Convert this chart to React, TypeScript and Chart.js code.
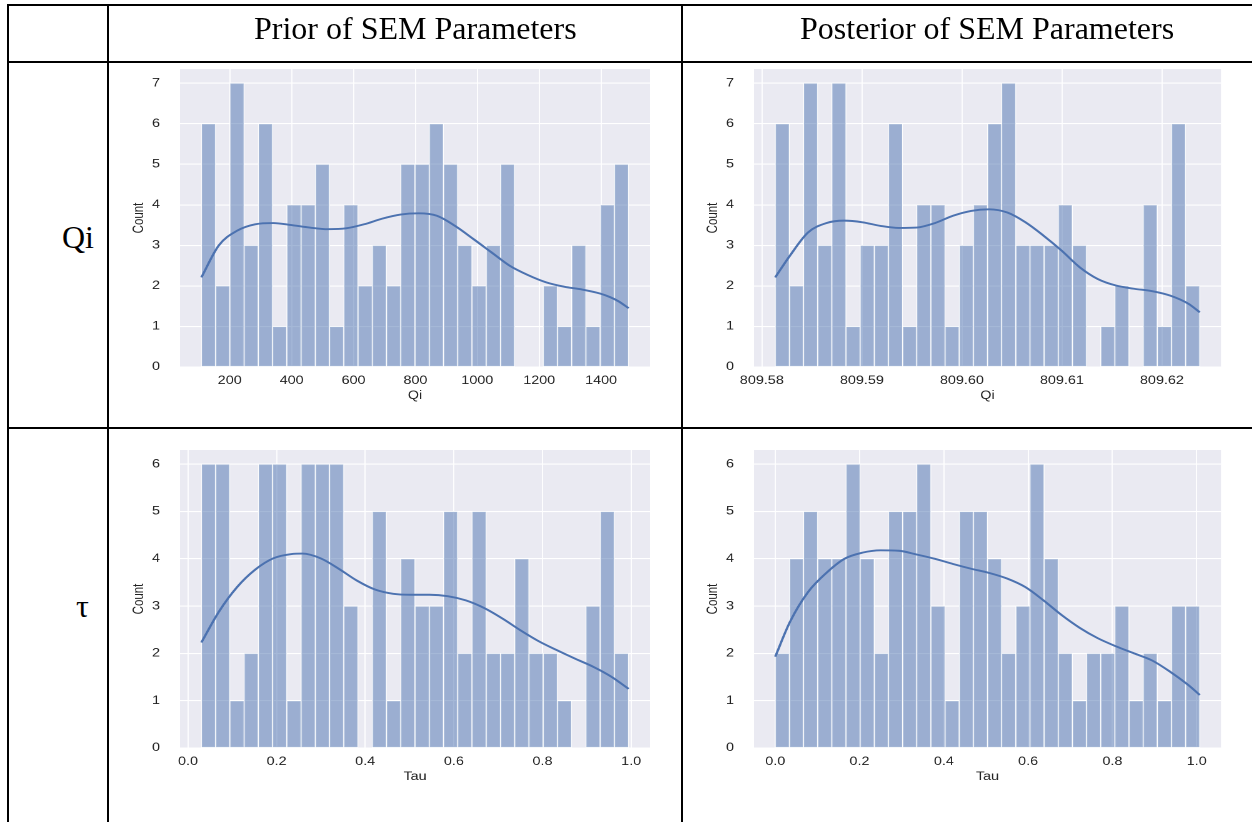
import { useEffect, useRef } from "react";
import { Chart, registerables } from "chart.js";

Chart.register(...registerables);

// ---------------- data ----------------
const headerPrior = "Prior of SEM Parameters";
const headerPosterior = "Posterior of SEM Parameters";
const rowLabelQi = "Qi";
const rowLabelTau = "τ";

// Prior Qi histogram (30 bins)
const qiPriorCounts = [6, 2, 7, 3, 6, 1, 4, 4, 5, 1, 4, 2, 3, 2, 5, 5, 6, 5, 3, 2, 3, 5, 0, 0, 2, 1, 3, 1, 4, 5];
const qiPriorRange: [number, number] = [108.4, 1489];
const qiPriorKdeX = [108.4, 164.8, 223.5, 282.2, 340.9, 399.6, 458.3, 517.0, 575.7, 634.4, 693.1, 751.8, 810.5, 869.3, 928.0, 986.7, 1045.4, 1104.1, 1162.8, 1221.5, 1280.2, 1338.9, 1397.6, 1430, 1456.3, 1489];
const qiPriorKdeY = [2.21, 3.0, 3.36, 3.52, 3.55, 3.5, 3.44, 3.4, 3.42, 3.52, 3.66, 3.76, 3.79, 3.73, 3.48, 3.16, 2.83, 2.5, 2.27, 2.09, 1.98, 1.91, 1.81, 1.72, 1.62, 1.45];
const qiPriorTickStep = 200;

// Posterior Qi histogram (30 bins)
const qiPostCounts = [6, 2, 7, 3, 7, 1, 3, 3, 6, 1, 4, 4, 1, 3, 4, 6, 7, 3, 3, 3, 4, 3, 0, 1, 2, 0, 4, 1, 6, 2];
const qiPostRange: [number, number] = [809.58134, 809.62378];
const qiPostKdeX = [809.58134, 809.58282, 809.58463, 809.58644, 809.58825, 809.59006, 809.59187, 809.59368, 809.59549, 809.5973, 809.59911, 809.60092, 809.60273, 809.60454, 809.60635, 809.60816, 809.60997, 809.61178, 809.61359, 809.6154, 809.61721, 809.61902, 809.62083, 809.62264, 809.62378];
const qiPostKdeY = [2.21, 2.75, 3.32, 3.55, 3.61, 3.57, 3.48, 3.43, 3.44, 3.55, 3.73, 3.85, 3.89, 3.81, 3.57, 3.24, 2.87, 2.46, 2.17, 2.01, 1.93, 1.87, 1.76, 1.56, 1.35];
const qiPostTickStep = 0.01;

// Prior Tau histogram (30 bins)
const tauPriorCounts = [6, 6, 1, 2, 6, 6, 1, 6, 6, 6, 3, 0, 5, 1, 4, 3, 3, 5, 2, 5, 2, 2, 4, 2, 2, 1, 0, 3, 5, 2];
const tauPriorRange: [number, number] = [0.0303, 0.9943];
const tauPriorKdeX = [0.0303, 0.0697, 0.1107, 0.1516, 0.1926, 0.2336, 0.2582, 0.2992, 0.3402, 0.3811, 0.4221, 0.4631, 0.5041, 0.5451, 0.5861, 0.627, 0.668, 0.709, 0.75, 0.791, 0.832, 0.873, 0.9139, 0.9549, 0.9943];
const tauPriorKdeY = [2.23, 2.88, 3.4, 3.77, 4.01, 4.1, 4.11, 4.01, 3.79, 3.54, 3.35, 3.26, 3.24, 3.24, 3.21, 3.12, 2.96, 2.74, 2.49, 2.26, 2.07, 1.89, 1.72, 1.51, 1.25];
const tauPriorTickStep = 0.2;

// Posterior Tau histogram (30 bins)
const tauPostCounts = [2, 4, 5, 4, 4, 6, 4, 2, 5, 5, 6, 3, 1, 5, 5, 4, 2, 3, 6, 4, 2, 1, 2, 2, 3, 1, 2, 1, 3, 3];
const tauPostRange: [number, number] = [0.0, 1.0073];
const tauPostKdeX = [0.0, 0.0352, 0.0782, 0.1211, 0.1641, 0.207, 0.25, 0.293, 0.3359, 0.3789, 0.4218, 0.4648, 0.5077, 0.5507, 0.5936, 0.6366, 0.6796, 0.7225, 0.7655, 0.8084, 0.8514, 0.8943, 0.9373, 0.9802, 1.0073];
const tauPostKdeY = [1.93, 2.67, 3.3, 3.7, 4.0, 4.13, 4.18, 4.17, 4.09, 4.0, 3.89, 3.79, 3.7, 3.58, 3.4, 3.12, 2.81, 2.54, 2.32, 2.15, 2.0, 1.85, 1.61, 1.33, 1.12];
const tauPostTickStep = 0.2;

// ---------------- styling ----------------
const SX = 1.25; // horizontal stretch of the embedded figures
const PLOT_BG = "#EAEAF2";
const TEXT = "#222222";
const LINE = "#4C72B0";
const BAR = "rgba(76,114,176,0.5)";
const SANS = "'Liberation Sans', Arial, sans-serif";
const SERIF = "'Liberation Serif', 'Times New Roman', serif";

const bgPlugin = {
  id: "plotBg",
  beforeDraw(chart: any) {
    const { ctx, chartArea: a } = chart;
    ctx.save();
    ctx.fillStyle = PLOT_BG;
    ctx.fillRect(a.left, a.top, a.right - a.left, a.bottom - a.top);
    ctx.restore();
  },
};

type PanelProps = {
  counts: number[];
  range: [number, number];
  kdeX: number[];
  kdeY: number[];
  xTitle: string;
  xStep: number;
  xDecimals: number;
  left: number;
  top: number;
  width: number;
  height: number;
  plotL: number;
  plotR: number;
  plotT: number;
  plotB: number;
};

function Panel(p: PanelProps) {
  const ref = useRef<HTMLCanvasElement | null>(null);
  const cw = Math.round(p.width / SX);

  useEffect(() => {
    if (!ref.current) return;
    const n = p.counts.length;
    const span = p.range[1] - p.range[0];
    const bw = span / n;
    const bars = p.counts.map((c, i) => ({ x: p.range[0] + (i + 0.5) * bw, y: c }));
    const kde = p.kdeX.map((x, i) => ({ x, y: p.kdeY[i] }));
    const xMin = p.range[0] - 0.05 * span;
    const xMax = p.range[1] + 0.05 * span;
    const yMax = Math.max(...p.counts) * 1.05;

    const areaL = (p.plotL - p.left) / SX;
    const areaR = (p.plotR - p.left) / SX;
    const areaT = p.plotT - p.top;
    const areaB = p.plotB - p.top;
    const xAxisH = p.height - areaB;
    const tickSize = 11.5;
    const titleSize = 11.5;
    const titleLH = titleSize * 1.2;
    const xTitleGap = 29;
    const yTitleGap = 41 / SX;

    const chart = new Chart(ref.current, {
      type: "bar",
      data: {
        datasets: [
          {
            type: "line",
            data: kde,
            borderColor: LINE,
            borderWidth: 1.9,
            pointRadius: 0,
            cubicInterpolationMode: "monotone",
            fill: false,
            order: 0,
          } as any,
          {
            type: "bar",
            data: bars,
            backgroundColor: BAR,
            borderColor: "#ffffff",
            borderWidth: 0.7,
            borderSkipped: false,
            barPercentage: 1,
            categoryPercentage: 1,
            order: 1,
          } as any,
        ],
      },
      options: {
        animation: false,
        responsive: false,
        devicePixelRatio: 2,
        layout: { padding: { left: 0, top: areaT, right: cw - areaR, bottom: 0 } },
        plugins: { legend: { display: false }, tooltip: { enabled: false } },
        scales: {
          x: {
            type: "linear",
            min: xMin,
            max: xMax,
            offset: false,
            grid: { color: "#ffffff", lineWidth: 0.9, offset: false, drawTicks: false },
            border: { display: false },
            ticks: {
              stepSize: p.xStep,
              includeBounds: false,
              padding: 7,
              color: TEXT,
              font: { family: SANS, size: tickSize },
              maxRotation: 0,
              autoSkip: false,
              callback: (v: any) => Number(v).toFixed(p.xDecimals),
            },
            title: {
              display: true,
              text: p.xTitle,
              color: TEXT,
              font: { family: SANS, size: titleSize },
              padding: { top: 0, bottom: xAxisH - xTitleGap - titleLH / 2 },
            },
            afterFit: (s: any) => {
              s.height = xAxisH;
            },
          } as any,
          y: {
            type: "linear",
            min: 0,
            max: yMax,
            grid: { color: "#ffffff", lineWidth: 1.1, drawTicks: false },
            border: { display: false },
            ticks: {
              stepSize: 1,
              includeBounds: false,
              padding: 16,
              color: TEXT,
              font: { family: SANS, size: tickSize },
            },
            title: {
              display: true,
              text: "Count",
              color: TEXT,
              font: { family: SANS, size: titleSize },
              padding: { top: areaL - yTitleGap - titleLH / 2, bottom: 0 },
            },
            afterFit: (s: any) => {
              s.width = areaL;
            },
          } as any,
        },
      },
      plugins: [bgPlugin],
    });
    return () => chart.destroy();
  }, []);

  return (
    <div
      style={{
        position: "absolute",
        left: p.left,
        top: p.top,
        width: cw,
        height: p.height,
        transform: `scaleX(${SX})`,
        transformOrigin: "0 0",
      }}
    >
      <canvas ref={ref} width={cw} height={p.height} />
    </div>
  );
}

function Rule(props: { l: number; t: number; w: number; h: number }) {
  return (
    <div
      style={{
        position: "absolute",
        left: props.l,
        top: props.t,
        width: props.w,
        height: props.h,
        background: "#000",
      }}
    />
  );
}

function Label(props: { l: number; t: number; text: string }) {
  return (
    <div
      style={{
        position: "absolute",
        left: props.l,
        top: props.t,
        fontFamily: SERIF,
        fontSize: 32,
        lineHeight: "32px",
        color: "#000",
        whiteSpace: "nowrap",
      }}
    >
      {props.text}
    </div>
  );
}

export default function App() {
  return (
    <div
      style={{
        position: "absolute",
        left: 0,
        top: 0,
        width: 1252,
        height: 822,
        overflow: "hidden",
        background: "#ffffff",
      }}
    >
      <Panel
        counts={qiPriorCounts}
        range={qiPriorRange}
        kdeX={qiPriorKdeX}
        kdeY={qiPriorKdeY}
        xTitle="Qi"
        xStep={qiPriorTickStep}
        xDecimals={0}
        left={110}
        top={40}
        width={570}
        height={384}
        plotL={180}
        plotR={650}
        plotT={69}
        plotB={367}
      />
      <Panel
        counts={qiPostCounts}
        range={qiPostRange}
        kdeX={qiPostKdeX}
        kdeY={qiPostKdeY}
        xTitle="Qi"
        xStep={qiPostTickStep}
        xDecimals={2}
        left={684}
        top={40}
        width={568}
        height={384}
        plotL={754}
        plotR={1221}
        plotT={69}
        plotB={367}
      />
      <Panel
        counts={tauPriorCounts}
        range={tauPriorRange}
        kdeX={tauPriorKdeX}
        kdeY={tauPriorKdeY}
        xTitle="Tau"
        xStep={tauPriorTickStep}
        xDecimals={1}
        left={110}
        top={420}
        width={570}
        height={400}
        plotL={180}
        plotR={650}
        plotT={450}
        plotB={748}
      />
      <Panel
        counts={tauPostCounts}
        range={tauPostRange}
        kdeX={tauPostKdeX}
        kdeY={tauPostKdeY}
        xTitle="Tau"
        xStep={tauPostTickStep}
        xDecimals={1}
        left={684}
        top={420}
        width={568}
        height={400}
        plotL={754}
        plotR={1221}
        plotT={450}
        plotB={748}
      />

      {/* table rules */}
      <Rule l={7} t={4} w={1245} h={2} />
      <Rule l={7} t={4} w={2} h={818} />
      <Rule l={7} t={61} w={1245} h={2} />
      <Rule l={7} t={427} w={1245} h={2} />
      <Rule l={107} t={4} w={2} h={818} />
      <Rule l={681} t={4} w={2} h={818} />

      {/* table texts */}
      <Label l={254} t={12} text={headerPrior} />
      <Label l={800} t={12} text={headerPosterior} />
      <Label l={62} t={221} text={rowLabelQi} />
      <Label l={76} t={590} text={rowLabelTau} />
    </div>
  );
}
